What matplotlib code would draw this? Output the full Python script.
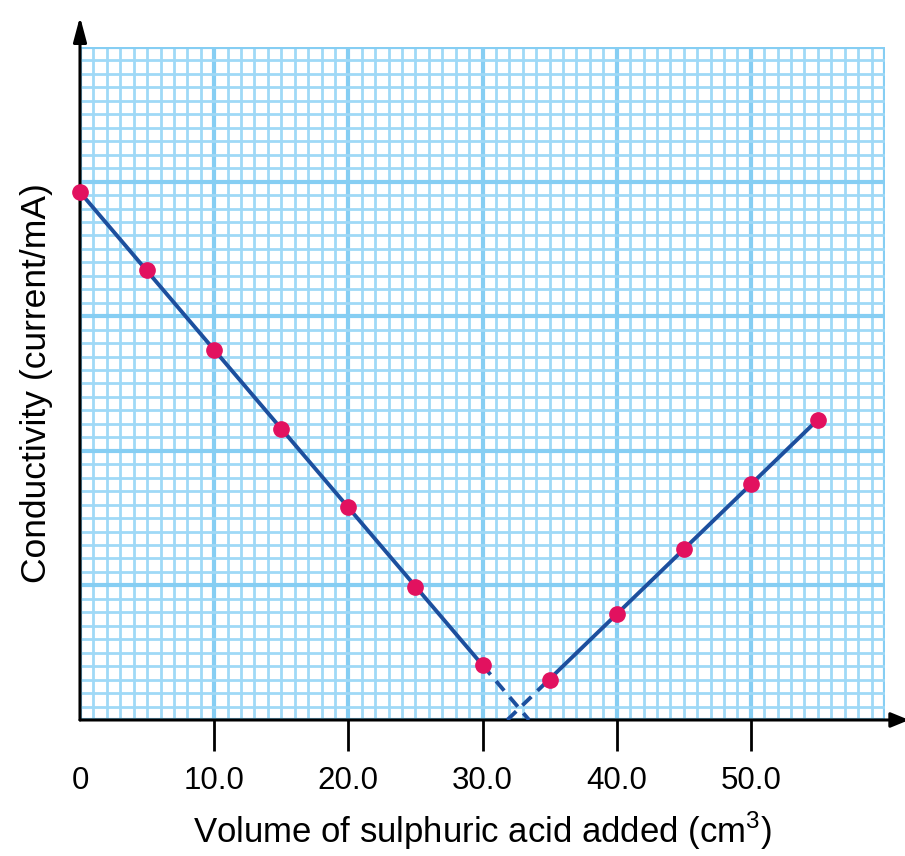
import matplotlib.pyplot as plt
import numpy as np
from matplotlib.ticker import MultipleLocator

# volume of acid added (cm3) and conductivity readings (arbitrary grid units)
volume = [0, 5, 10, 15, 20, 25, 30, 35, 40, 45, 50, 55]
current = [39.2, 33.4, 27.5, 21.6, 15.8, 9.9, 4.1, 3.0, 7.9, 12.7, 17.5, 22.3]
tick_vals = [0, 10, 20, 30, 40, 50, 60]
tick_text = ["0", "10.0", "20.0", "30.0", "40.0", "50.0", ""]

plt.rcParams['font.family'] = ['Liberation Sans', 'DejaVu Sans']
plt.rcParams['mathtext.fontset'] = 'custom'
plt.rcParams['mathtext.rm'] = 'Liberation Sans'

fig = plt.figure(figsize=(9.05, 8.56), dpi=100)
ax = fig.add_axes([0.0884, 0.1589, 0.8895, 0.7862])
ax.set_xlim(0, 60)
ax.set_ylim(0, 50)

#graph paper grid
ax.xaxis.set_minor_locator(MultipleLocator(1))
ax.yaxis.set_minor_locator(MultipleLocator(1))
ax.set_xticks(tick_vals)
ax.set_xticklabels(tick_text, fontsize=22.5)
ax.set_yticks([0, 10, 20, 30, 40, 50])
ax.set_yticklabels([])
ax.grid(which="minor", color="#9fd9f7", lw=2.0)
ax.grid(which="major", color="#86cef3", lw=3.0)
ax.set_axisbelow(True)
ax.tick_params(axis="y", which="both", length=0)
ax.tick_params(axis="x", which="minor", length=0)
ax.tick_params(axis="x", which="major", length=22, width=2, direction="out", pad=11, colors="black")
for t, v in zip(ax.xaxis.get_major_ticks(), tick_vals):
    if v in (0, 60):
        t.tick1line.set_visible(False)

ax.spines[["top", "right", "left", "bottom"]].set_visible(False)

#axes with arrow heads
ax.annotate("", xy=(1.03, 0), xytext=(0, 0), xycoords="axes fraction",
            arrowprops=dict(arrowstyle="-|>,head_length=1.1,head_width=0.45", color="black", lw=2.2, shrinkA=0, shrinkB=0),
            annotation_clip=False)
ax.annotate("", xy=(0, 1.045), xytext=(0, 0), xycoords="axes fraction",
            arrowprops=dict(arrowstyle="-|>,head_length=1.5,head_width=0.4", color="black", lw=2.2, shrinkA=0, shrinkB=0),
            annotation_clip=False)

#two straight lines through the readings
v = np.array(volume)
c = np.array(current)
down = v <= 30
up = v >= 35
m1, b1 = np.polyfit(v[down], c[down], 1)
m2, b2 = np.polyfit(v[up], c[up], 1)
blue = "#1d4f9e"
ax.plot([0, 30], [b1, m1 * 30 + b1], color=blue, lw=2.8, zorder=3)
ax.plot([35, 55], [m2 * 35 + b2, m2 * 55 + b2], color=blue, lw=2.8, zorder=3)
x0_down = -b1 / m1
x0_up = -b2 / m2
ax.plot([30, x0_down], [m1 * 30 + b1, 0], color=blue, lw=2.8, ls=(0, (3.2, 2.2)), zorder=3)
ax.plot([x0_up, 35], [0, m2 * 35 + b2], color=blue, lw=2.8, ls=(0, (3.2, 2.2)), zorder=3)

ax.plot(volume, current, "o", color="#e2115f", ms=11, zorder=4, clip_on=False)

ax.set_xlabel("Volume of sulphuric acid added (cm$^3$)", fontsize=25, labelpad=10)
ax.set_ylabel("Conductivity (current/mA)", fontsize=25.5, labelpad=16)

fig.savefig("out.png", dpi=100)
